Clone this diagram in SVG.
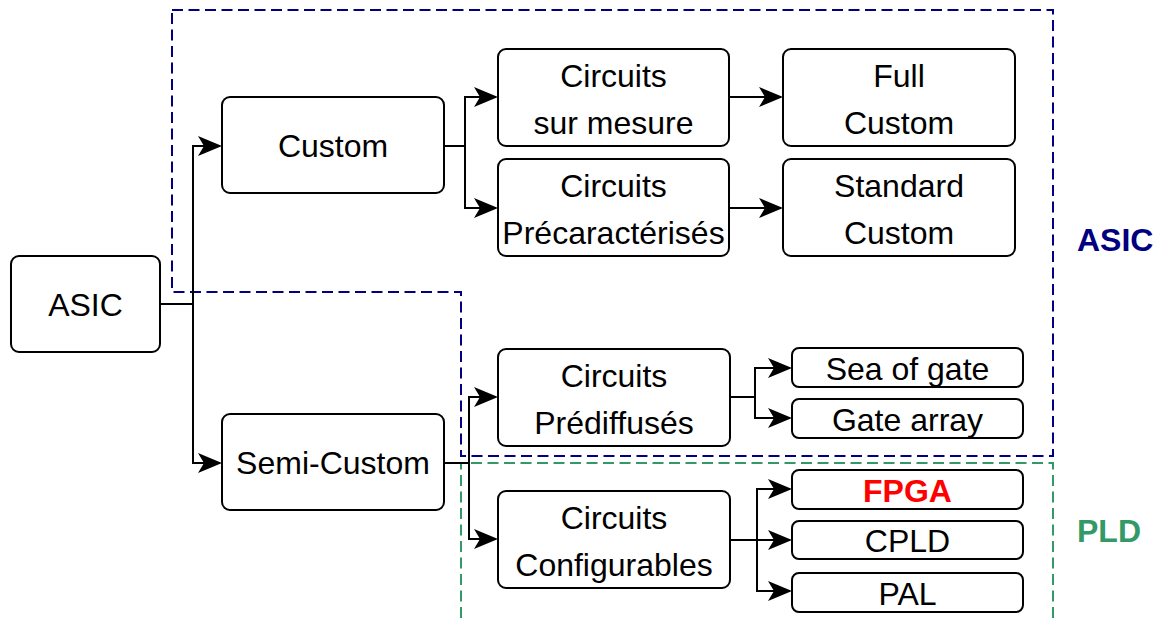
<svg xmlns="http://www.w3.org/2000/svg" width="1168" height="618" viewBox="0 0 1168 618">
<style>
.box{fill:#fff;stroke:#000;stroke-width:2}
.t{font-family:"Liberation Sans",Arial,sans-serif;font-size:32px;fill:#000;text-anchor:middle}
.c{fill:none;stroke:#000;stroke-width:2;marker-end:url(#ah)}
.l{fill:none;stroke:#000;stroke-width:2}
.lbl{font-family:"Liberation Sans",Arial,sans-serif;font-size:32px;font-weight:bold}
</style>
<defs>
<marker id="ah" markerUnits="userSpaceOnUse" viewBox="0 0 24 20" refX="22" refY="10" markerWidth="24" markerHeight="20" orient="auto">
<path d="M0,0 L24,10 L0,20 L6,10 Z" fill="#000"/>
</marker>
</defs>
<rect width="1168" height="618" fill="#fff"/>
<g id="regions">
<path d="M172,10 H1053 V456 H461 V292 H172 Z" fill="none" stroke="#000080" stroke-width="2" stroke-dasharray="11 5.5"/>
<path d="M461,618 V463 H1053 V618" fill="none" stroke="#339966" stroke-width="2" stroke-dasharray="11 5.5"/>
<text class="lbl" x="1077" y="251" fill="#000080">ASIC</text>
<text class="lbl" x="1077" y="542" fill="#339966">PLD</text>
</g>
<g id="connectors">
<path class="l" d="M160,304 H193"/>
<path class="c" d="M193,304 V146 H220"/>
<path class="c" d="M193,304 V463 H220"/>
<path class="l" d="M444,146 H465"/>
<path class="c" d="M465,146 V97 H496"/>
<path class="c" d="M465,146 V208 H496"/>
<path class="c" d="M729,97 H781"/>
<path class="c" d="M729,208 H781"/>
<path class="l" d="M444,463 H469"/>
<path class="c" d="M469,463 V397 H496"/>
<path class="c" d="M469,463 V539 H496"/>
<path class="l" d="M730,397 H755"/>
<path class="c" d="M755,397 V368 H790"/>
<path class="c" d="M755,397 V418 H790"/>
<path class="c" d="M730,540 H790"/>
<path class="c" d="M757,540 V489 H790"/>
<path class="c" d="M757,540 V591 H790"/>
</g>
<g id="asic"><rect class="box" x="11" y="256" width="149" height="96" rx="8"/><text class="t" x="85.5" y="316">ASIC</text></g>
<g id="custom"><rect class="box" x="222" y="97" width="222" height="96" rx="8"/><text class="t" x="333" y="157">Custom</text></g>
<g id="semicustom"><rect class="box" x="222" y="414" width="222" height="96" rx="8"/><text class="t" x="333" y="474">Semi-Custom</text></g>
<g id="surmesure"><rect class="box" x="498" y="49" width="231" height="97" rx="8"/><text class="t" x="613.5" y="86.5">Circuits</text><text class="t" x="613.5" y="133.5">sur mesure</text></g>
<g id="precaracterises"><rect class="box" x="498" y="159" width="231" height="97" rx="8"/><text class="t" x="613.5" y="196.5">Circuits</text><text class="t" x="613.5" y="243.5">Précaractérisés</text></g>
<g id="fullcustom"><rect class="box" x="783" y="49" width="232" height="97" rx="8"/><text class="t" x="899" y="86.5">Full</text><text class="t" x="899" y="133.5">Custom</text></g>
<g id="standardcustom"><rect class="box" x="783" y="159" width="232" height="97" rx="8"/><text class="t" x="899" y="196.5">Standard</text><text class="t" x="899" y="243.5">Custom</text></g>
<g id="prediffuses"><rect class="box" x="498" y="349" width="232" height="97" rx="8"/><text class="t" x="614" y="386.5">Circuits</text><text class="t" x="614" y="433.5">Prédiffusés</text></g>
<g id="configurables"><rect class="box" x="498" y="491" width="232" height="97" rx="8"/><text class="t" x="614" y="528.5">Circuits</text><text class="t" x="614" y="575.5">Configurables</text></g>
<g id="seaofgate"><rect class="box" x="792" y="348" width="231" height="39" rx="7"/><text class="t" x="907.5" y="380">Sea of gate</text></g>
<g id="gatearray"><rect class="box" x="792" y="399" width="231" height="39" rx="7"/><text class="t" x="907.5" y="430.5">Gate array</text></g>
<g id="fpga"><rect class="box" x="792" y="470" width="231" height="39" rx="7"/><text class="t" x="907.5" y="501.5" style="fill:#ff0000;font-weight:bold">FPGA</text></g>
<g id="cpld"><rect class="box" x="792" y="521" width="231" height="38" rx="7"/><text class="t" x="907.5" y="552">CPLD</text></g>
<g id="pal"><rect class="box" x="792" y="573" width="231" height="39" rx="7"/><text class="t" x="907.5" y="604.5">PAL</text></g>
</svg>
